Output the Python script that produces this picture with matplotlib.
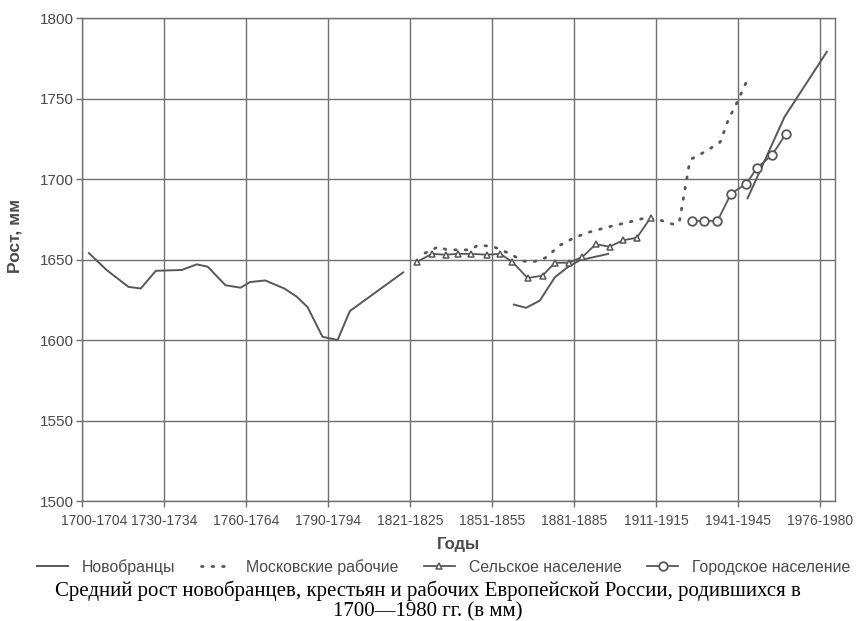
import matplotlib
matplotlib.use("Agg")
import numpy as np
import matplotlib.pyplot as plt
import matplotlib.transforms as mtransforms

sans = "Liberation Sans"
serif = "Liberation Serif"

# позиции по оси x — номер пятилетия (0 = 1700-1704)
tick_pos = [0, 6, 12, 18, 24, 30, 36, 42, 48, 54]
tick_labels = ["1700-1704", "1730-1734", "1760-1764", "1790-1794", "1821-1825",
               "1851-1855", "1881-1885", "1911-1915", "1941-1945", "1976-1980"]

# Новобранцы (три участка, разрывы через nan)
recruits_x = [0.5, 1.8, 3.4, 4.3, 5.4, 7.3, 8.4, 9.2, 10.5, 11.6, 12.3, 13.4,
              14.8, 15.7, 16.5, 17.6, 18.7, 19.6, 23.5, np.nan,
              31.6, 32.5, 33.5, 34.6, 35.5, 36.4, 38.5, np.nan,
              48.7, 51.4, 54.5]
recruits_y = [1654, 1643.5, 1633, 1632, 1643, 1643.5, 1647, 1645.5, 1634, 1632.5, 1636, 1637,
              1632, 1627, 1620.5, 1602, 1600, 1618, 1642, np.nan,
              1622, 1620, 1624.5, 1639, 1645, 1649.5, 1653.5, np.nan,
              1688, 1738.5, 1779]

# Московские рабочие
moscow_x = [25.1, 26.1, 26.7, 28.4, 29.0, 30.1, 31.2, 32.3, 33.0, 33.9, 35.0, 35.9,
            36.9, 38.4, 39.9, 41.3, 42.3, 43.2, 43.7, 44.4, 44.6, 45.7, 46.7, 47.3,
            47.9, 48.6]
moscow_y = [1654, 1658, 1656, 1656, 1659, 1658, 1654, 1649, 1648.5, 1651, 1659, 1663,
            1666.5, 1670, 1673, 1676, 1674.5, 1672, 1673, 1707.5, 1712.5, 1717.5, 1723, 1737,
            1747, 1760]

# Сельское население
rural_x = [24.5, 25.6, 26.6, 27.5, 28.5, 29.6, 30.6, 31.5, 32.6, 33.7, 34.6, 35.6,
           36.6, 37.6, 38.6, 39.6, 40.6, 41.6]
rural_y = [1648.5, 1653.5, 1653, 1653.5, 1653.5, 1653, 1653.5, 1648.5, 1638.5, 1640, 1648, 1648,
           1651.5, 1659.5, 1658, 1662, 1663.5, 1676]

# Городское население
urban_x = [44.6, 45.5, 46.5, 47.5, 48.6, 49.4, 50.5, 51.5]
urban_y = [1674, 1674, 1674, 1691, 1697, 1707, 1715, 1728]

line_c = "#575757"
grid_c = "#707070"
text_c = "#4a4a4a"

fig = plt.figure(figsize=(8.56, 6.21), dpi=100)
ax = fig.add_axes([0.0958, 0.1932, 0.8797, 0.7778])

ax.plot(recruits_x, recruits_y, color=line_c, lw=1.4, label="Новобранцы")
ax.plot(moscow_x, moscow_y, color=line_c, lw=2.0, linestyle=(0, (0.6, 3.2)),
        dash_capstyle="round", label="Московские рабочие")
ax.plot(rural_x, rural_y, color=line_c, lw=1.3, marker="^", ms=5, mfc="white",
        mec=line_c, mew=1.1, label="Сельское население")
ax.plot(urban_x, urban_y, color=line_c, lw=1.3, marker="o", ms=6.2, mfc="white",
        mec=line_c, mew=1.3, label="Городское население")

ax.set_xlim(0, 55.1)
ax.set_ylim(1500, 1800)
ax.set_xticks(tick_pos)
ax.set_xticklabels(tick_labels)
ax.set_yticks(np.arange(1500, 1801, 50))
ax.grid(True, color=grid_c, lw=1.0)
ax.set_axisbelow(True)
for s in ax.spines.values():
    s.set_color(grid_c)
    s.set_linewidth(1.0)
ax.tick_params(colors=grid_c, length=4, width=1.0, labelcolor=text_c)
ax.tick_params(axis="x", labelsize=10, pad=5)
ax.tick_params(axis="y", labelsize=11, pad=2)
for lab in ax.get_xticklabels() + ax.get_yticklabels():
    lab.set_family(sans)
# первая подпись сдвинута вправо, как в оригинале
first = ax.get_xticklabels()[0]
first.set_transform(first.get_transform() +
                    mtransforms.ScaledTranslation(12 / 100, 0, fig.dpi_scale_trans))

ax.set_xlabel("Годы", family=sans, fontweight="bold", fontsize=12, color=text_c, labelpad=7)
fig.text(0.018, 0.62, "Рост, мм", rotation=90, family=sans, fontweight="bold",
         fontsize=12.5, color=text_c, ha="center", va="center")

leg = fig.legend(loc="center", bbox_to_anchor=(0.518, 1 - 567 / 621), ncol=4, frameon=False,
                 prop={"family": sans, "size": 11.4}, handlelength=2.0, columnspacing=1.6,
                 handletextpad=0.85, labelcolor=text_c)

fig.text(0.5, 1 - 591 / 621, "Средний рост новобранцев, крестьян и рабочих Европейской России, родившихся в",
         ha="center", va="center", family=serif, fontsize=15, color="black")
fig.text(0.5, 1 - 612 / 621, "1700—1980 гг. (в мм)",
         ha="center", va="center", family=serif, fontsize=15, color="black")

fig.savefig("out.png", dpi=100)
